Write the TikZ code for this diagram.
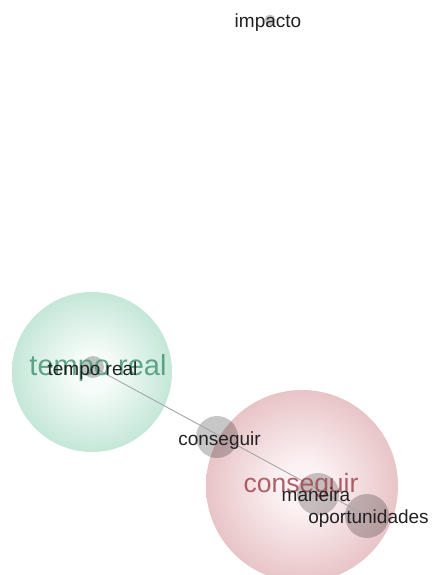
\documentclass[tikz,border=0pt]{standalone}
\usepackage{fontspec}
\setmainfont{Liberation Sans}
\usepackage{tikz}
\definecolor{gedge}{RGB}{132,204,172}
\definecolor{gmid}{RGB}{246,252,249}
\definecolor{redge}{RGB}{206,136,140}
\definecolor{rmid}{RGB}{252,242,243}
\definecolor{gword}{RGB}{72,150,118}
\definecolor{rword}{RGB}{160,72,82}
\definecolor{wordgray}{RGB}{34,34,34}
\pgfdeclareradialshading{greenball}{\pgfpoint{0bp}{0bp}}{color(0bp)=(gmid); color(6bp)=(gmid); color(50bp)=(gedge)}
\pgfdeclareradialshading{redball}{\pgfpoint{0bp}{0bp}}{color(0bp)=(rmid); color(6bp)=(rmid); color(50bp)=(redge)}

\begin{document}
\begin{tikzpicture}[x=1pt, y=-1pt,
  cluster/.style={circle, inner sep=0pt, minimum size=#1},
  bubble/.style={circle, fill=black, fill opacity=0.22, draw=none, inner sep=0pt, minimum size=#1},
  lbl/.style={anchor=base, inner sep=0pt, text=wordgray, font=\fontsize{19}{19}\selectfont},
  biglbl/.style={anchor=base, inner sep=0pt, text opacity=0.85, font=\fontsize{#1}{#1}\selectfont},
  link/.style={draw=black!35, line width=0.9pt}]
\useasboundingbox[fill=white] (0,0) rectangle (433,575);
% clusters
\node[cluster=160pt, shading=greenball] (temporeal) at (92,372) {};
\node[cluster=192pt, shading=redball] (conseguir) at (302,486) {};
% word bubbles
\node[bubble=22pt] (tr) at (93,367) {};
\node[bubble=42pt] (cons) at (217,437) {};
\node[bubble=42pt] (man) at (318,494) {};
\node[bubble=44pt] (opor) at (367,516) {};
\node[bubble=11pt] (imp) at (270,20) {};
\draw[link] (tr.center) -- (opor.center);
% cluster names
\node[biglbl=29, text=gword] (ntr) at (98,375) {tempo real};
\node[biglbl=26.5, text=rword] (ncons) at (301,492) {conseguir};
% words
\node[lbl] (ltr) at (92.5,375) {tempo real};
\node[lbl] (lcons) at (219.5,445) {conseguir};
\node[lbl] (lman) at (316,501) {maneira};
\node[lbl] (lopor) at (368.5,523) {oportunidades};
\node[lbl] (limp) at (268,28) {impacto};
\end{tikzpicture}
\end{document}
